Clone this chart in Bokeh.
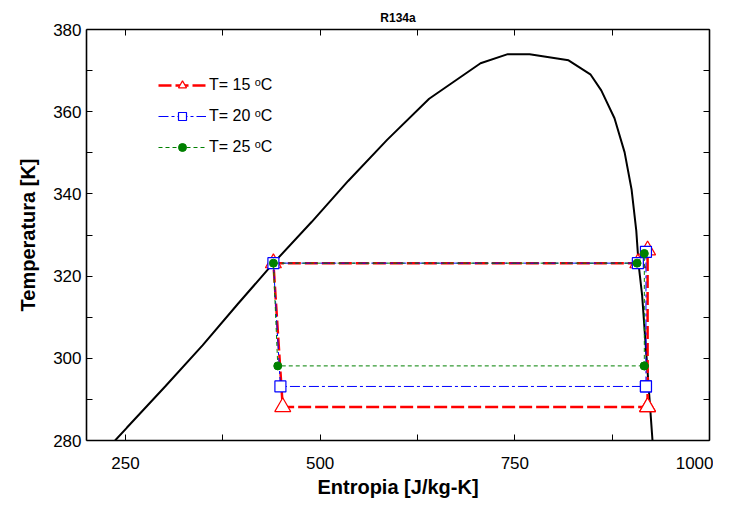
from bokeh.plotting import figure
from bokeh.models import Legend, LegendItem, LinearAxis, FixedTicker, Range1d
from bokeh.embed import file_html
from bokeh.resources import INLINE

# Saturation dome (s [J/kg-K], T [K])
dome_s = [236.7, 252, 301, 349, 394, 440, 489, 536, 586, 640, 706, 741, 769,
          819, 847, 861, 878, 891, 900, 906, 909, 913.5, 926.8]
dome_T = [280, 283.15, 293.15, 303.15, 313.15, 323.15, 333.15, 343.15, 353.15,
          363.15, 371.8, 374.0, 374.0, 372.5, 369.1, 365.2, 358.4, 350.1, 341,
          331, 322.8, 315.3, 280]

# Cycles
c15_s = [920.5, 920.5, 908, 440, 452, 920.5]
c15_T = [288.15, 326.3, 323.15, 323.15, 288.15, 288.15]
c20_s = [918.4, 918.4, 908, 440, 449, 918.4]
c20_T = [293.15, 325.9, 323.15, 323.15, 293.15, 293.15]
c25_s = [916.3, 916.3, 907, 440, 445.6, 916.3]
c25_T = [298.15, 325.5, 323.15, 323.15, 298.15, 298.15]

labels = ["T= 15 \u1d52C", "T= 20 \u1d52C", "T= 25 \u1d52C"]
x_ticks = [250, 500, 750, 1000]
x_minor = [375, 625, 875]
y_ticks = [280, 300, 320, 340, 360, 380]
y_minor = [290, 310, 330, 350, 370]

FONT = "Liberation Sans"

p = figure(width=713, height=502, x_range=Range1d(200, 1000), y_range=Range1d(280, 380),
           output_backend="svg", toolbar_location=None,
           min_border_left=86, min_border_right=4, min_border_top=29, min_border_bottom=62,
           title="R134a")
p.title.align = "center"
p.title.text_font = FONT
p.title.text_font_size = "12px"
p.title.text_font_style = "bold"
p.title.text_color = "black"
p.grid.visible = False
p.outline_line_color = None
p.background_fill_color = "white"

def style_axis(ax, ticks, minor):
    ax.ticker = FixedTicker(ticks=ticks, minor_ticks=minor)
    ax.axis_line_width = 1.6
    ax.axis_line_color = "black"
    ax.major_tick_in = 6
    ax.major_tick_out = 0
    ax.minor_tick_in = 6
    ax.minor_tick_out = 0
    ax.major_tick_line_color = "black"
    ax.minor_tick_line_color = "black"
    ax.major_label_text_font = FONT
    ax.major_label_text_color = "black"
    ax.major_label_text_font_size = "17px"

style_axis(p.xaxis[0], x_ticks, x_minor)
style_axis(p.yaxis[0], y_ticks, y_minor)
p.xaxis[0].major_label_standoff = 16
p.yaxis[0].major_label_standoff = 5

p.xaxis.axis_label = "Entropia [J/kg-K]"
p.yaxis.axis_label = "Temperatura [K]"
for ax in (p.xaxis[0], p.yaxis[0]):
    ax.axis_label_text_font = FONT
    ax.axis_label_text_font_size = "20px"
    ax.axis_label_text_font_style = "bold"
    ax.axis_label_text_color = "black"
p.xaxis[0].axis_label_standoff = 4
p.yaxis[0].axis_label_standoff = 11

# mirrored tick marks on top and right (no labels: all ticks as minor ticks)
top = LinearAxis()
style_axis(top, [], x_ticks + x_minor)
top.major_label_standoff = 0
p.add_layout(top, "above")
right = LinearAxis()
style_axis(right, [], y_ticks + y_minor)
right.major_label_standoff = 0
p.add_layout(right, "right")

p.line(dome_s, dome_T, line_color="black", line_width=2)

l15 = p.line(c15_s, c15_T, line_color="#FF0000", line_width=2.5, line_dash="13 4")
m15 = p.scatter(c15_s, c15_T, marker="triangle", size=16, line_color="#FF0000",
                fill_color="white", line_width=1.2)
l20 = p.line(c20_s, c20_T, line_color="#0000FF", line_width=1, line_dash="10 3 3 3")
m20 = p.scatter(c20_s, c20_T, marker="square", size=11, line_color="#0000FF",
                fill_color="white", line_width=1.2)
l25 = p.line(c25_s, c25_T, line_color="#008000", line_width=1, line_dash="4 3")
m25 = p.scatter(c25_s, c25_T, marker="circle", size=8, line_color="#008000",
                fill_color="#008000")

legend = Legend(items=[LegendItem(label=labels[0], renderers=[l15, m15]),
                       LegendItem(label=labels[1], renderers=[l20, m20]),
                       LegendItem(label=labels[2], renderers=[l25, m25])],
                location=(72, 283))
legend.glyph_width = 48
legend.glyph_height = 20
legend.label_height = 20
legend.spacing = 11
legend.padding = 0
legend.margin = 0
legend.label_standoff = 3
legend.border_line_color = None
legend.background_fill_alpha = 0
legend.label_text_font = FONT
legend.label_text_font_size = "16px"
legend.label_text_color = "black"
p.add_layout(legend, "center")

open("out.html", "w").write(file_html(p, INLINE))
